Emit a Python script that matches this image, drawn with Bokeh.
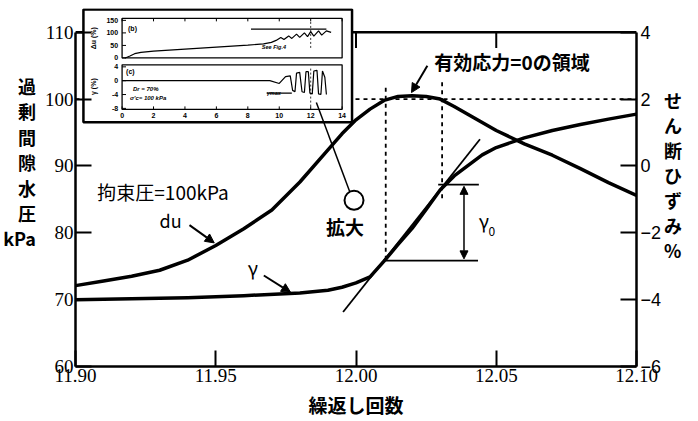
from math import pi
from bokeh.plotting import figure
from bokeh.models import (Range1d, LinearAxis, FixedTicker, PrintfTickFormatter,
                          Label, Arrow, NormalHead)
from bokeh.core.properties import value
from bokeh.embed import file_html
from bokeh.resources import INLINE

# ---------------- data ----------------
cycles = [11.900, 11.910, 11.920, 11.930, 11.940, 11.950, 11.960, 11.970, 11.980,
          11.990, 11.995, 12.000, 12.005, 12.010, 12.015, 12.020, 12.025, 12.030,
          12.035, 12.040, 12.050, 12.060, 12.070, 12.080, 12.090, 12.100]
du_kpa = [72.1, 72.8, 73.5, 74.4, 75.9, 78.1, 80.6, 83.4, 87.6,
          92.4, 94.8, 96.9, 98.5, 99.8, 100.4, 100.5, 100.4, 100.0,
          98.9, 97.7, 95.3, 93.3, 91.6, 89.6, 87.5, 85.6]

gamma_cycles = [11.900, 11.920, 11.940, 11.960, 11.980, 11.990, 11.995, 12.000,
                12.005, 12.010, 12.015, 12.020, 12.025, 12.030, 12.035, 12.040,
                12.045, 12.050, 12.060, 12.070, 12.080, 12.090, 12.100]
gamma_pct = [-4.00, -3.97, -3.94, -3.88, -3.80, -3.72, -3.63, -3.50,
             -3.32, -2.85, -2.35, -1.87, -1.30, -0.72, -0.30, 0.02,
             0.33, 0.55, 0.84, 1.06, 1.24, 1.40, 1.55]

x_ticks = [11.90, 11.95, 12.00, 12.05, 12.10]
du_ticks = [60, 70, 80, 90, 100, 110]
gamma_ticks = [-6, -4, -2, 0, 2, 4]

zero_stress_du = 100.0
zero_stress_x = [12.0106, 12.0307]
zero_stress_top_g = [2.34, 2.50]
zero_stress_bottom_g = [-2.83, -1.06]
tangent_x = [11.9954, 12.0442]
tangent_g = [-4.37, 0.80]
gamma0_x0 = [12.0293, 12.0106]
gamma0_x1 = [12.0438, 12.0435]
gamma0_g = [-0.56, -2.83]
gamma0_arrow_x = 12.0385

# inset (whole test record)
inset_n_du = [0.2, 0.5, 0.8, 1.2, 2.0, 3.0, 4.0, 5.0, 6.0, 7.0, 8.0, 9.0, 9.5, 9.8,
              10.1, 10.3, 10.6, 10.8, 11.1, 11.3, 11.6, 11.8, 12.0, 12.2, 12.5,
              12.7, 13.0, 13.3]
inset_du = [0, 8, 17, 22, 27, 31, 35, 39, 43, 47, 51, 56, 62, 70,
            82, 74, 88, 78, 95, 82, 100, 85, 105, 87, 108, 91, 108, 102]
inset_du_line_n = [8.2, 13.0]
inset_du_line = [115, 115]
inset_n_g = [0.0, 2.0, 4.0, 6.0, 8.0, 9.4, 10.0, 10.4, 10.7, 10.85, 11.0, 11.1,
             11.3, 11.45, 11.6, 11.7, 11.85, 11.95, 12.1, 12.2, 12.4, 12.5, 12.65,
             12.75, 12.9, 13.0]
inset_g = [0.0, 0.0, 0.0, 0.0, 0.0, 0.0, -0.8, 1.2, 1.4, -2.8, -3.2, 2.2,
           2.4, -3.2, -3.4, 2.6, 2.6, -3.6, -3.8, 2.8, 3.0, -3.8, -4.0,
           2.8, 1.0, -4.0]
inset_gmax_n = [9.2, 10.8]
inset_gmax = [-3.6, -3.6]
inset_x_ticks = [0, 2, 4, 6, 8, 10, 12, 14]
inset_du_ticks = [0, 50, 100, 150]
inset_g_ticks = [-8, -4, 0, 4]


# -------- picture-pixel helpers for placing annotations --------
def X(px):
    return 11.9 + (px - 70) / 2830.0


def Y(py):
    return 60 + (370 - py) / 6.76


def IX(px):
    return (px - 117) / 15.857


def IB(py):
    return (58 - py) / 0.2533


def IC(py):
    return 4 - (py - 67) / 3.5


W, H = 692, 420
p = figure(width=W, height=H, x_range=Range1d(11.9, 12.1),
           y_range=Range1d(60, Y(8)), output_backend="svg",
           toolbar_location=None, x_axis_type=None, y_axis_type=None,
           min_border_left=70, min_border_right=W - 636, min_border_top=8,
           min_border_bottom=H - 370)
p.outline_line_color = None
p.xgrid.visible = False
p.ygrid.visible = False
p.background_fill_color = "white"
p.border_fill_color = "white"

p.extra_y_ranges = {
    "g": Range1d(-6, -6 + 362 / 33.8),
    "ib": Range1d(IB(370), IB(8)),
    "ic": Range1d(IC(370), IC(8)),
}
p.extra_x_ranges = {"ix": Range1d(IX(70), IX(636))}

JP = "Noto Sans CJK JP"
BLANK = "\u3000"


# ---------------- axes ----------------
def style_axis(ax, font, size):
    ax.axis_line_width = 2.5
    ax.major_tick_line_width = 2
    ax.major_tick_in = 16
    ax.major_tick_out = 0
    ax.minor_tick_line_color = None
    ax.major_label_text_font = font
    ax.major_label_text_font_size = size
    ax.major_label_text_color = "black"
    ax.axis_label_text_font = JP
    ax.axis_label_text_font_style = "bold"
    ax.axis_label_text_color = "black"


xb = LinearAxis(ticker=FixedTicker(ticks=x_ticks),
                formatter=PrintfTickFormatter(format="%.2f"))
style_axis(xb, "Liberation Serif", "19px")
xb.major_label_standoff = 2
xb.axis_label = "繰返し回数"
xb.axis_label_text_font_size = "19px"
xb.axis_label_standoff = 6
p.add_layout(xb, "below")

yl = LinearAxis(ticker=FixedTicker(ticks=du_ticks), bounds=(60, 110))
style_axis(yl, "Liberation Serif", "19px")
yl.major_label_standoff = 2
yl.axis_label = "\n".join(list("過剰間隙水圧") + ["kPa", BLANK, BLANK])
yl.axis_label_orientation = "horizontal"
yl.axis_label_text_font_size = "18px"
yl.axis_label_text_line_height = 0.98
yl.axis_label_standoff = 6
p.add_layout(yl, "left")

yr = LinearAxis(y_range_name="g", ticker=FixedTicker(ticks=gamma_ticks), bounds=(-6, 4))
style_axis(yr, "Liberation Sans", "18px")
yr.major_label_standoff = 4
yr.axis_label = "\n".join(list("せん断ひずみ%") + [BLANK])
yr.axis_label_orientation = "horizontal"
yr.axis_label_text_font_size = "18px"
yr.axis_label_text_line_height = 0.96
yr.axis_label_standoff = 0
p.add_layout(yr, "right")

# top border with inward ticks
p.segment(x0=[x_ticks[0]], x1=[x_ticks[-1]], y0=[du_ticks[-1]], y1=[du_ticks[-1]],
          line_width=2.5, color="black")
p.segment(x0=x_ticks[1:-1], x1=x_ticks[1:-1], y0=[du_ticks[-1]] * 3,
          y1=[du_ticks[-1] - 16 / 6.76] * 3, line_width=2, color="black")

# ---------------- main curves ----------------
p.line([x_ticks[0], x_ticks[-1]], [zero_stress_du, zero_stress_du],
       line_dash="4 4", line_width=1.8, color="black")
p.segment(x0=zero_stress_x, x1=zero_stress_x, y0=zero_stress_top_g,
          y1=zero_stress_bottom_g, y_range_name="g", line_dash="4 4",
          line_width=1.8, color="black")
p.line(cycles, du_kpa, line_width=3.5, color="black", line_join="round")
p.line(gamma_cycles, gamma_pct, y_range_name="g", line_width=3.5, color="black",
       line_join="round")
p.line(tangent_x, tangent_g, y_range_name="g", line_width=1.8, color="black")
p.segment(x0=gamma0_x0, x1=gamma0_x1, y0=gamma0_g, y1=gamma0_g, y_range_name="g",
          line_width=1.8, color="black")
p.add_layout(Arrow(x_start=gamma0_arrow_x, y_start=gamma0_g[0] - 0.05,
                   x_end=gamma0_arrow_x, y_end=gamma0_g[1] + 0.05, y_range_name="g",
                   start=NormalHead(size=8, fill_color="black", line_color="black"),
                   end=NormalHead(size=8, fill_color="black", line_color="black"),
                   line_width=1.5))

# ---------------- inset ----------------
IR = dict(x_range_name="ix", y_range_name="ib")
CR = dict(x_range_name="ix", y_range_name="ic")
p.quad(left=[IX(78)], right=[IX(349)], top=[IB(9)], bottom=[IB(123)],
       fill_color="white", line_color="black", line_width=2.5, **IR)
p.quad(left=[inset_x_ticks[0]], right=[inset_x_ticks[-1]], top=[IB(18)],
       bottom=[inset_du_ticks[0]], fill_color=None, line_color="black",
       line_width=1.3, **IR)
p.quad(left=[inset_x_ticks[0]], right=[inset_x_ticks[-1]], top=[IC(65)],
       bottom=[IC(110)], fill_color=None, line_color="black", line_width=1.3, **CR)
# inset ticks
p.segment(x0=inset_x_ticks, x1=inset_x_ticks, y0=[IC(110)] * 8, y1=[IC(107)] * 8,
          line_width=1, color="black", **CR)
p.segment(x0=inset_x_ticks, x1=inset_x_ticks, y0=[IB(18)] * 8, y1=[IB(21)] * 8,
          line_width=1, color="black", **IR)
p.segment(x0=[0] * 4, x1=[0.25] * 4, y0=inset_du_ticks, y1=inset_du_ticks,
          line_width=1, color="black", **IR)
p.segment(x0=[0] * 4, x1=[0.25] * 4, y0=inset_g_ticks, y1=inset_g_ticks,
          line_width=1, color="black", **CR)
# inset curves
p.line(inset_n_du, inset_du, line_width=1.2, color="black", **IR)
p.line(inset_du_line_n, inset_du_line, line_width=1.2, color="black", **IR)
p.line([12, 12], [40, 150], line_dash="2 2", line_width=0.8, color="black", **IR)
p.line(inset_n_g, inset_g, line_width=1.2, color="black", **CR)
p.line(inset_gmax_n, inset_gmax, line_width=1.2, color="black", **CR)
p.line([12, 12], [3.5, -7.5], line_dash="2 2", line_width=0.8, color="black", **CR)
# inset texts
small = dict(text_font=value("Liberation Sans"), text_font_size="7px",
             text_font_style="bold", text_color="black")
p.text(x=[IX(113)] * 4, y=inset_du_ticks, text=[str(t) for t in inset_du_ticks],
       text_align="right", text_baseline="middle", **small, **IR)
p.text(x=[IX(113)] * 4, y=inset_g_ticks, text=[str(t) for t in inset_g_ticks],
       text_align="right", text_baseline="middle", **small, **CR)
p.text(x=inset_x_ticks, y=[IC(116)] * 8, text=[str(t) for t in inset_x_ticks],
       text_align="center", text_baseline="middle", **small, **CR)
p.text(x=[IX(88)], y=[IB(38)], text=["Δu (%)"], angle=pi / 2, text_align="center",
       text_baseline="middle", **small, **IR)
p.text(x=[IX(88)], y=[IC(87)], text=["γ (%)"], angle=pi / 2, text_align="center",
       text_baseline="middle", **small, **CR)
p.text(x=[IX(123)], y=[IB(28)], text=["(b)"], text_align="left",
       text_baseline="middle", **small, **IR)
p.text(x=[IX(121)], y=[IC(72)], text=["(c)"], text_align="left",
       text_baseline="middle", **small, **CR)
p.text(x=[IX(258)], y=[IB(47)], text=["See Fig.4"], text_align="left",
       text_baseline="middle", text_font_style="bold italic",
       text_font=value("Liberation Sans"), text_font_size="5.5px", **IR)
p.text(x=[IX(128)], y=[IC(89)], text=["Dr = 70%"], text_align="left",
       text_baseline="middle", text_font_style="bold italic",
       text_font=value("Liberation Sans"), text_font_size="6px", **CR)
p.text(x=[IX(125)], y=[IC(98)], text=["σ'c= 100 kPa"], text_align="left",
       text_baseline="middle", text_font_style="bold italic",
       text_font=value("Liberation Sans"), text_font_size="6px", **CR)
p.text(x=[IX(263)], y=[IC(93)], text=["γmax"], text_align="left",
       text_baseline="middle", text_font_style="bold italic",
       text_font=value("Liberation Sans"), text_font_size="5.5px", **CR)

# leader from the inset to the "拡大" circle
p.line([X(313), X(347)], [Y(103), Y(194)], line_width=1.5, color="black")
p.scatter(x=[X(351)], y=[Y(202)], size=19, marker="circle", fill_color="white",
          line_color="black", line_width=2)


# ---------------- labels ----------------
def lab(px, py, text, size="19px", align="center", style="normal", font=JP):
    p.add_layout(Label(x=X(px), y=Y(py), text=text, text_align=align,
                       text_baseline="middle", text_font=font,
                       text_font_size=size, text_font_style=style,
                       text_color="black"))


lab(432, 62, "有効応力=0の領域", align="left", style="bold")
lab(92, 193, "拘束圧=100kPa", size="19px", align="left")
lab(166, 222, "du", size="18px")
lab(249, 270, "γ", size="19px")
lab(482, 222, "γ", size="19px")
lab(490, 233, "0", size="12px")
lab(342, 228, "拡大", style="bold")

arrow_kw = dict(line_width=2, line_color="black")
p.add_layout(Arrow(end=NormalHead(size=9, fill_color="black", line_color="black"),
                   x_start=X(425), y_start=Y(66), x_end=X(409), y_end=Y(93), **arrow_kw))
p.add_layout(Arrow(end=NormalHead(size=9, fill_color="black", line_color="black"),
                   x_start=X(185), y_start=Y(227), x_end=X(210), y_end=Y(245), **arrow_kw))
p.add_layout(Arrow(end=NormalHead(size=9, fill_color="black", line_color="black"),
                   x_start=X(260), y_start=Y(278), x_end=X(287), y_end=Y(295), **arrow_kw))

open("out.html", "w").write(file_html(p, INLINE))
